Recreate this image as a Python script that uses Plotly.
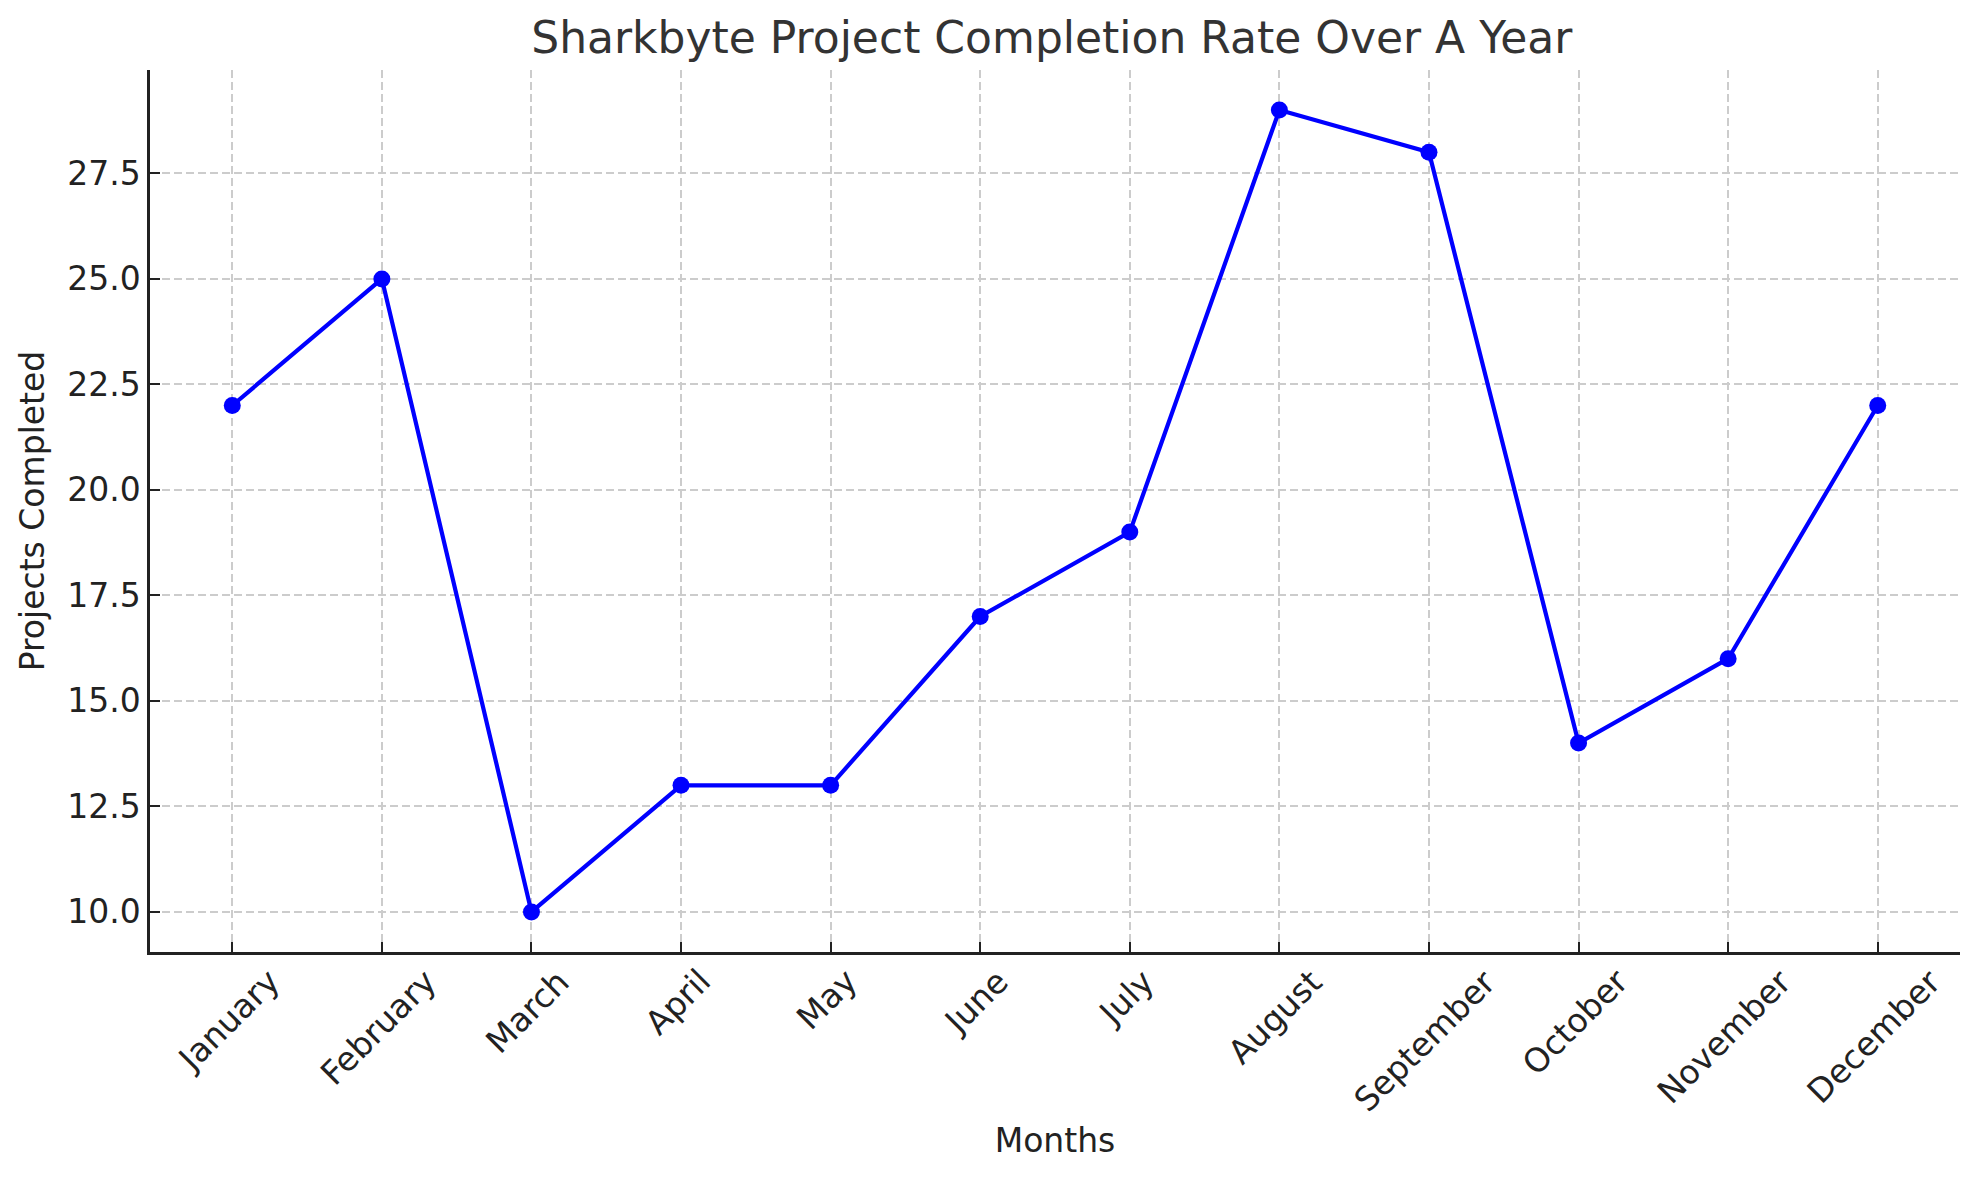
import plotly.graph_objects as go

months = ["January", "February", "March", "April", "May", "June", "July",
          "August", "September", "October", "November", "December"]
projects = [22, 25, 10, 13, 13, 17, 19, 29, 28, 14, 16, 22]
y_ticks = [10.0, 12.5, 15.0, 17.5, 20.0, 22.5, 25.0, 27.5]
y_tick_text = ["10.0", "12.5", "15.0", "17.5", "20.0", "22.5", "25.0", "27.5"]

FONT = "DejaVu Sans"
fig = go.Figure()
fig.add_trace(go.Scatter(
    x=months, y=projects, mode="lines+markers",
    line=dict(color="#0000ff", width=4.2),
    marker=dict(color="#0000ff", size=17),
    showlegend=False,
))

for m in months:
    fig.add_annotation(
        x=m, xref="x", y=0, yref="paper", yshift=-7, xshift=-4,
        text=m, textangle=-45, showarrow=False,
        xanchor="center", yanchor="top",
        font=dict(family=FONT, size=33, color="#222222"),
    )

fig.update_layout(
    width=1969, height=1172,
    margin=dict(l=142, r=17, t=62, b=228, pad=0),
    paper_bgcolor="white", plot_bgcolor="white",
    font=dict(family=FONT, size=33, color="#222222"),
    title=dict(text="Sharkbyte Project Completion Rate Over A Year",
               x=0.5301, xanchor="center", y=0.9744, yanchor="middle",
               font=dict(family=FONT, size=44, color="#333333")),
    xaxis=dict(
        type="category", categoryorder="array", categoryarray=months,
        range=[-0.55, 11.55], showticklabels=False,
        ticks="inside", ticklen=10, tickwidth=2, tickcolor="#222222",
        showline=True, linecolor="#222222", linewidth=2.5, mirror=False,
        showgrid=True, gridcolor="#cccccc", gridwidth=1.5, griddash="8px,4px",
        zeroline=False,
        title=dict(text="Months", standoff=176,
                   font=dict(family=FONT, size=33, color="#222222")),
    ),
    yaxis=dict(
        range=[9.05, 29.95], tickvals=y_ticks, ticktext=y_tick_text,
        ticks="inside", ticklen=10, tickwidth=2, tickcolor="#222222",
        showline=True, linecolor="#222222", linewidth=2.5, mirror=False,
        showgrid=True, gridcolor="#cccccc", gridwidth=1.5, griddash="8px,4px",
        zeroline=False,
        tickfont=dict(family=FONT, size=33, color="#222222"),
        title=dict(text="Projects Completed", standoff=13,
                   font=dict(family=FONT, size=33, color="#222222")),
    ),
)

fig.write_html("out.html")
